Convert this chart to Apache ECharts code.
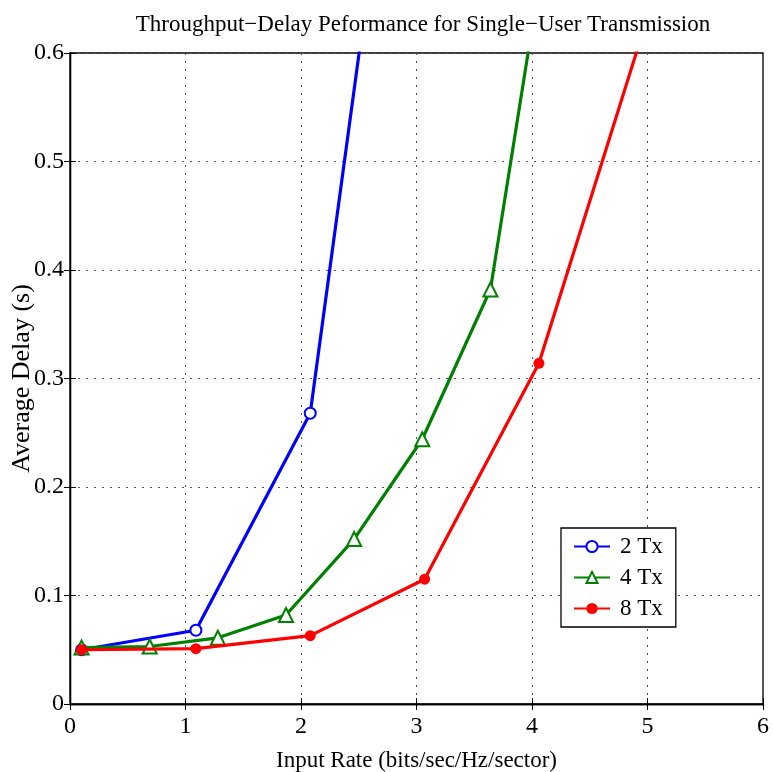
<!DOCTYPE html>
<html><head><meta charset="utf-8">
<script src="https://cdn.jsdelivr.net/npm/echarts@6/dist/echarts.min.js"></script>
<style>html,body{margin:0;padding:0;background:#fff}#c{width:773px;height:772px}</style>
</head><body><div id="c"></div>
<script>
// Input rate (x) and average delay (y) per configuration
const tx2X = [0.1, 1.09, 2.08, 3.0];
const tx2Y = [0.050, 0.068, 0.268, 0.99];
const tx4X = [0.1, 0.69, 1.28, 1.87, 2.46, 3.05, 3.64, 4.25];
const tx4Y = [0.052, 0.053, 0.061, 0.082, 0.152, 0.244, 0.382, 0.79];
const tx8X = [0.1, 1.09, 2.08, 3.07, 4.06, 5.05];
const tx8Y = [0.050, 0.051, 0.063, 0.115, 0.314, 0.65];
const seriesNames = ['2 Tx', '4 Tx', '8 Tx'];
const xTicks = [0, 1, 2, 3, 4, 5, 6];
const yTicks = [0, 0.1, 0.2, 0.3, 0.4, 0.5, 0.6];

const pair = (xs, ys) => xs.map((x, i) => [x, ys[i]]);
const font = '"Liberation Serif", "Times New Roman", serif';
const chart = echarts.init(document.getElementById('c'));
const axisCommon = {
  axisLine: {show: true, lineStyle: {color: '#000', width: 1.3}},
  axisTick: {show: true, inside: true, length: 6, lineStyle: {color: '#000'}},
};
chart.setOption({
  animation: false,
  backgroundColor: '#fff',
  title: {
    text: 'Throughput\u2212Delay Peformance for Single\u2212User Transmission',
    left: 418, top: 8, textAlign: 'center',
    textStyle: {fontFamily: font, fontWeight: 'normal', fontSize: 23, color: '#000'}
  },
  legend: {
    orient: 'vertical', left: 561, top: 528,
    padding: [7, 13, 7, 12], itemGap: 8,
    itemWidth: 36, itemHeight: 14,
    backgroundColor: '#fff', borderColor: '#000', borderWidth: 1.3,
    textStyle: {fontFamily: font, fontSize: 23, color: '#000', padding: [0, 0, 0, 5]},
    data: seriesNames
  },
  grid: {left: 70, right: 10, top: 53, bottom: 68, containLabel: false, outerBoundsMode: 'none',
    show: true, borderColor: '#000', borderWidth: 1.3},
  xAxis: [{
    type: 'value', min: 0, max: 6, interval: 1,
    name: 'Input Rate (bits/sec/Hz/sector)', nameLocation: 'middle', nameGap: 45,
    nameMoveOverlap: false,
    nameTextStyle: {fontFamily: font, fontSize: 23, color: '#000'},
    axisLabel: {fontFamily: font, fontSize: 24, color: '#000', margin: 11,
      formatter: v => xTicks.includes(v) ? String(v) : ''},
    splitLine: {show: true, lineStyle: {type: [2, 6], color: '#555', width: 1}},
    ...axisCommon
  }, {
    type: 'value', min: 0, max: 6, interval: 1, position: 'top',
    axisLabel: {show: false}, splitLine: {show: false}, ...axisCommon
  }],
  yAxis: [{
    type: 'value', min: 0, max: 0.6, interval: 0.1,
    name: 'Average Delay (s)', nameLocation: 'middle', nameGap: 35,
    nameMoveOverlap: false,
    nameTextStyle: {fontFamily: font, fontSize: 26, color: '#000'},
    axisLabel: {fontFamily: font, fontSize: 24, color: '#000', margin: 6,
      formatter: v => { const r = Math.round(v * 10) / 10; return yTicks.includes(r) ? String(r) : ''; }},
    splitLine: {show: true, lineStyle: {type: [2, 6], color: '#555', width: 1}},
    ...axisCommon
  }, {
    type: 'value', min: 0, max: 0.6, interval: 0.1, position: 'right',
    axisLabel: {show: false}, splitLine: {show: false}, ...axisCommon
  }],
  series: [
    {name: seriesNames[0], type: 'line', data: pair(tx2X, tx2Y), clip: true,
     color: '#0000ff', symbol: 'emptyCircle', symbolSize: 11,
     lineStyle: {width: 3.2}, itemStyle: {borderWidth: 2.8, color: '#0000ff'}, z: 3},
    {name: seriesNames[1], type: 'line', data: pair(tx4X, tx4Y), clip: true,
     color: '#008000', symbol: 'emptyTriangle', symbolSize: 14,
     lineStyle: {width: 3.2}, itemStyle: {borderWidth: 3, color: '#008000'}, z: 4},
    {name: seriesNames[2], type: 'line', data: pair(tx8X, tx8Y), clip: true,
     color: '#ff0000', symbol: 'circle', symbolSize: 11,
     lineStyle: {width: 3.2}, itemStyle: {color: '#ff0000'}, z: 5}
  ]
});
</script></body></html>
